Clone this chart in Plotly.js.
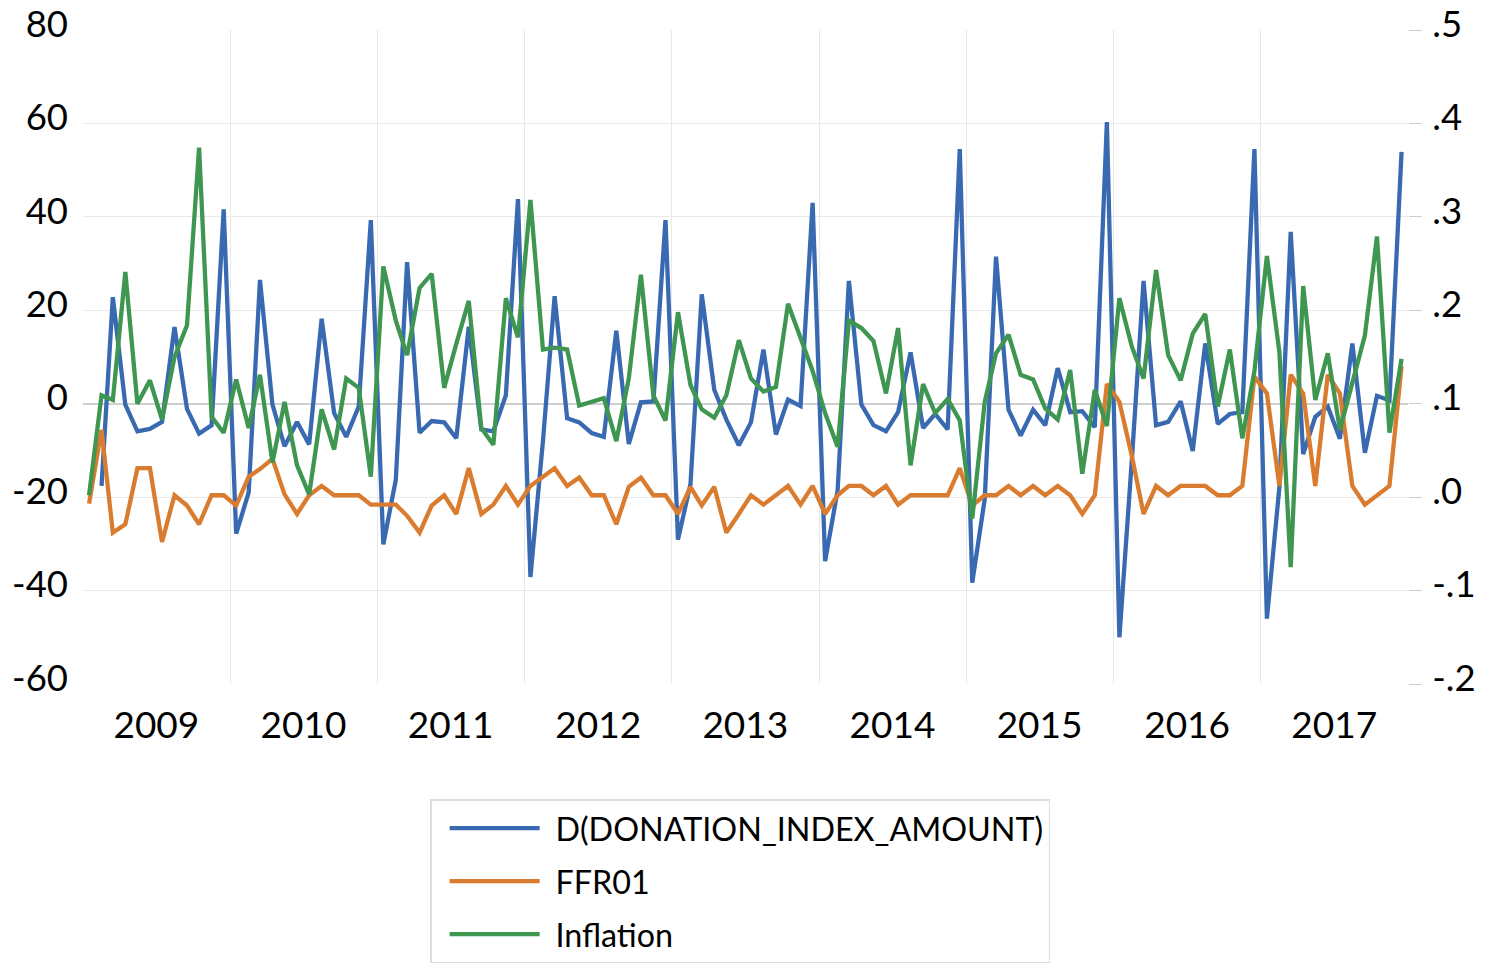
<!DOCTYPE html>
<html>
<head>
<meta charset="utf-8">
<script src="https://cdn.plot.ly/plotly-3.0.1.min.js"></script>
<style>
  html, body { margin: 0; padding: 0; background: #ffffff; }
  #chart { width: 1499px; height: 975px; }
</style>
</head>
<body>
<div id="chart"></div>
<script>
// Monthly observations, 2009M01 .. 2017M12
const startYear = 2009;
const endYear = 2017;
const years = ["2009", "2010", "2011", "2012", "2013", "2014", "2015", "2016", "2017"];

// D(DONATION_INDEX_AMOUNT) — left axis (first observation lost to differencing)
const donationDiff = [
  null, -17.6, 22.8, -0.2, -5.9, -5.4, -3.9, 16.4, -1.1, -6.4, -4.6, 41.6,
  -27.8, -19.0, 26.5, -0.2, -9.1, -3.9, -8.7, 18.2, -2.0, -7.1, -0.6, 39.3,
  -30.1, -16.3, 30.3, -6.2, -3.7, -4.0, -7.4, 16.5, -5.5, -5.9, 1.8, 43.8,
  -37.1, -8.0, 23.0, -3.1, -4.0, -6.3, -7.1, 15.6, -8.6, 0.3, 0.5, 39.3,
  -29.1, -17.2, 23.4, 3.0, -3.4, -8.9, -4.0, 11.6, -6.6, 0.9, -0.5, 43.0,
  -33.7, -18.6, 26.3, -0.2, -4.6, -5.9, -1.8, 11.0, -5.2, -2.2, -5.5, 54.5,
  -38.3, -20.4, 31.5, -1.3, -6.8, -1.3, -4.6, 7.6, -1.8, -1.6, -5.0, 60.3,
  -50.0, -12.0, 26.3, -4.6, -3.9, 0.5, -10.1, 12.9, -4.3, -2.2, -1.8, 54.5,
  -46.0, -17.8, 36.8, -10.8, -2.8, -0.6, -7.5, 12.9, -10.5, 1.7, 0.7, 53.9
];

// FFR01 — right axis
const ffr01 = [
  -0.007, 0.072, -0.038, -0.029, 0.031, 0.031, -0.048, 0.002, -0.009, -0.029, 0.002, 0.002,
  -0.009, 0.022, 0.030, 0.041, 0.003, -0.018, 0.002, 0.012, 0.002, 0.002, 0.002, -0.008,
  -0.008, -0.008, -0.020, -0.038, -0.009, 0.002, -0.018, 0.031, -0.018, -0.008, 0.012, -0.008,
  0.012, 0.022, 0.031, 0.012, 0.021, 0.002, 0.002, -0.029, 0.011, 0.021, 0.002, 0.002,
  -0.018, 0.011, -0.009, 0.011, -0.038, -0.018, 0.002, -0.008, 0.002, 0.012, -0.008, 0.012,
  -0.018, 0.002, 0.012, 0.012, 0.002, 0.012, -0.008, 0.002, 0.002, 0.002, 0.002, 0.031,
  -0.009, 0.002, 0.002, 0.012, 0.002, 0.012, 0.002, 0.012, 0.002, -0.018, 0.002, 0.121,
  0.102, 0.044, -0.018, 0.012, 0.002, 0.012, 0.012, 0.012, 0.002, 0.002, 0.012, 0.129,
  0.111, 0.012, 0.131, 0.111, 0.012, 0.131, 0.111, 0.012, -0.008, 0.002, 0.012, 0.140
];

// Inflation — right axis
const inflation = [
  0.002, 0.109, 0.104, 0.241, 0.100, 0.125, 0.083, 0.150, 0.184, 0.374, 0.086, 0.069,
  0.126, 0.074, 0.131, 0.037, 0.102, 0.034, 0.003, 0.094, 0.051, 0.127, 0.117, 0.022,
  0.247, 0.189, 0.152, 0.224, 0.239, 0.117, 0.164, 0.210, 0.074, 0.056, 0.213, 0.171,
  0.318, 0.158, 0.160, 0.158, 0.098, 0.102, 0.106, 0.060, 0.127, 0.238, 0.109, 0.082,
  0.198, 0.120, 0.094, 0.085, 0.109, 0.168, 0.127, 0.113, 0.118, 0.207, 0.171, 0.135,
  0.090, 0.054, 0.189, 0.181, 0.167, 0.111, 0.181, 0.034, 0.121, 0.090, 0.105, 0.082,
  -0.023, 0.102, 0.154, 0.174, 0.131, 0.126, 0.095, 0.083, 0.136, 0.025, 0.115, 0.076,
  0.213, 0.161, 0.127, 0.243, 0.152, 0.125, 0.175, 0.196, 0.097, 0.158, 0.063, 0.135,
  0.258, 0.155, -0.075, 0.226, 0.104, 0.154, 0.072, 0.122, 0.173, 0.279, 0.069, 0.148
];

const leftTicks = [-60, -40, -20, 0, 20, 40, 60, 80];
const leftTickText = ["-60", "-40", "-20", "0", "20", "40", "60", "80"];
const leftGrid = [-40, -20, 0, 20, 40, 60];
const rightTicks = [-0.2, -0.1, 0.0, 0.1, 0.2, 0.3, 0.4, 0.5];
const rightTickText = ["-.2", "-.1", ".0", ".1", ".2", ".3", ".4", ".5"];
const seriesNames = ["D(DONATION_INDEX_AMOUNT)", "FFR01", "Inflation"];

const months = [];
for (let y = startYear; y <= endYear; y++) {
  for (let m = 1; m <= 12; m++) {
    months.push(y + "-" + String(m).padStart(2, "0") + "-16");
  }
}
const yearMid = years.map(y => y + "-07-02");
const yearBounds = years.slice(1).map(y => y + "-01-01");

const FONT = "Lato, 'Open Sans', sans-serif";
const GAP = "\u2004"; // small gap between legend line and label

const traces = [
  { x: months, y: donationDiff, name: GAP + seriesNames[0], type: "scatter", mode: "lines",
    line: { color: "#396AB1", width: 4.3 }, yaxis: "y", legendgroup: "a", connectgaps: false },
  { x: months, y: ffr01, name: GAP + seriesNames[1], type: "scatter", mode: "lines",
    line: { color: "#DA7C30", width: 4.3 }, yaxis: "y2", legendgroup: "b" },
  { x: months, y: inflation, name: GAP + seriesNames[2], type: "scatter", mode: "lines",
    line: { color: "#3E9651", width: 4.3 }, yaxis: "y2", legendgroup: "c" }
];

const layout = {
  width: 1499, height: 975,
  margin: { l: 83, r: 91, t: 30, b: 284 },
  paper_bgcolor: "#ffffff", plot_bgcolor: "#ffffff",
  font: { family: FONT, size: 36, color: "#000000" },
  showlegend: true,
  xaxis: {
    type: "date",
    range: [startYear + "-01-01", (endYear + 1) + "-01-01"],
    tickmode: "array", tickvals: yearMid, ticktext: years,
    ticks: "", showgrid: false, zeroline: false, showline: false,
    ticklabelstandoff: 16,
    tickfont: { family: FONT, size: 37, color: "#000" },
    minor: { tickmode: "array", tickvals: yearBounds, showgrid: true, gridcolor: "#e9e9e9", gridwidth: 1, ticks: "" }
  },
  yaxis: {
    range: [-60, 80],
    tickmode: "array", tickvals: leftTicks, ticktext: leftTickText,
    ticks: "", showgrid: false, showline: false,
    zeroline: true, zerolinecolor: "#cfcfcf", zerolinewidth: 1.8,
    ticklabelstandoff: 14, ticklabelshift: -6,
    tickfont: { family: FONT, size: 36.5, color: "#000" },
    minor: { tickmode: "array", tickvals: leftGrid, showgrid: true, gridcolor: "#e9e9e9", gridwidth: 1, ticks: "" }
  },
  yaxis2: {
    overlaying: "y", side: "right",
    range: [-0.2, 0.5],
    tickmode: "array", tickvals: rightTicks, ticktext: rightTickText,
    ticks: "outside", ticklen: 13, tickwidth: 1, tickcolor: "#cccccc",
    showgrid: false, zeroline: false, showline: false,
    ticklabelstandoff: 3, ticklabelshift: -6,
    tickfont: { family: FONT, size: 36.5, color: "#000" }
  },
  legend: {
    orientation: "v",
    x: 0.262, xanchor: "left",
    y: -0.176, yanchor: "top",
    bgcolor: "#ffffff", bordercolor: "#dddddd", borderwidth: 1.5,
    font: { family: FONT, size: 32.3, color: "#000" },
    traceorder: "grouped", tracegroupgap: 8,
    itemwidth: 90, indentation: 13
  }
};

Plotly.newPlot("chart", traces, layout, { staticPlot: true, displayModeBar: false });
</script>
</body>
</html>
